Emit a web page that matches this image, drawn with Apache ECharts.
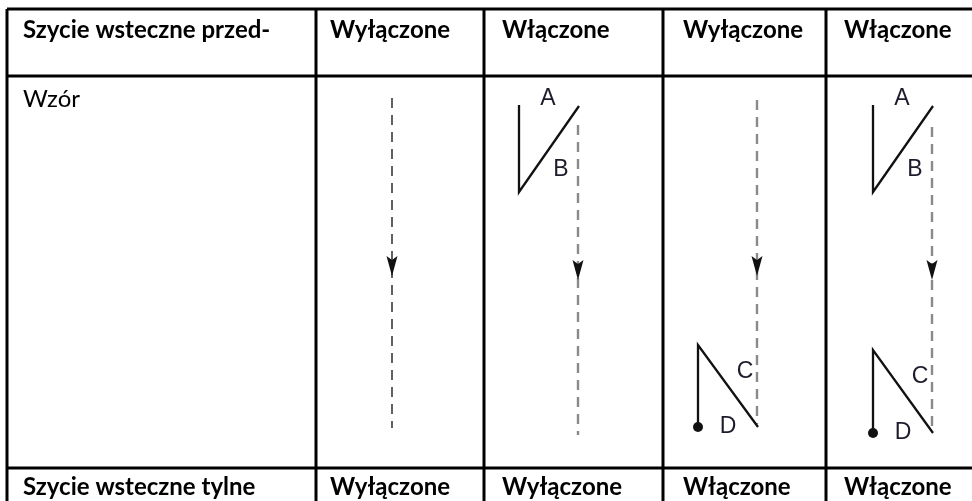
<!DOCTYPE html>
<html><head><meta charset="utf-8">
<script src="https://cdn.jsdelivr.net/npm/echarts@6/dist/echarts.min.js"></script>
<style>html,body{margin:0;padding:0;background:#fff}#c{width:972px;height:501px}</style>
</head><body><div id="c"></div>
<script>
// ---------- data ----------
const headerLabels = ['Szycie wsteczne przed-', 'Wyłączone', 'Włączone', 'Wyłączone', 'Włączone'];
const rowLabels = ['Wzór'];
const footerLabels = ['Szycie wsteczne tylne', 'Wyłączone', 'Wyłączone', 'Włączone', 'Włączone'];
const startTack = [false, true, false, true];   // backstitch at start (A/B)
const endTack = [false, false, true, true];     // backstitch at end (C/D)
const startLetters = ['A', 'B'];
const endLetters = ['C', 'D'];

// ---------- layout ----------
const W = 972, H = 501;
const colEdges = [7, 316, 484, 663, 826];
const rowEdges = [9, 76, 468];
const textPad = [16, 14, 18, 20, 18];
const headerY = 30, rowLabelY = 99, footerY = 487;
const stitchX = [392, 578, 757, 932];
const stitchTop = [98, 125, 100, 127];
const stitchBottom = [428, 435, 424, 430];
const stitchColor = ['#3a3a3a', '#8a8a8a', '#8a8a8a', '#8a8a8a'];
const stitchWidth = [1.6, 2.4, 2.4, 2.4];
const arrowTip = [276, 280, 276, 280];
const endTop = [0, 0, 345, 350];
const endBottom = [0, 0, 427, 433];

const FONT = 'Lato, "Open Sans", sans-serif';

// build element lists from data + layout
const ruleSegs = [];
rowEdges.forEach(y => ruleSegs.push([colEdges[0], y, W, y]));
colEdges.forEach(x => ruleSegs.push([x, rowEdges[0], x, H]));

const cellTexts = [];
headerLabels.forEach((t, i) => cellTexts.push({ value: [colEdges[i] + textPad[i], headerY], text: t, bold: true }));
rowLabels.forEach(t => cellTexts.push({ value: [colEdges[0] + textPad[0], rowLabelY], text: t, bold: false }));
footerLabels.forEach((t, i) => cellTexts.push({ value: [colEdges[i] + textPad[i], footerY], text: t, bold: true }));

const stitches = stitchX.map((x, k) => ({ value: [x, stitchTop[k], stitchBottom[k]], k }));
const arrows = stitchX.map((x, k) => ({ value: [x, arrowTip[k]] }));

const tacks = [], dots = [], letters = [];
startTack.forEach((on, k) => {
  if (!on) return;
  const sx = stitchX[k], vx = sx - 59;
  tacks.push({ value: [vx, 105, vx, 192, sx + 1, 106] });
  letters.push({ value: [sx - 30, 99], text: startLetters[0] });
  letters.push({ value: [sx - 17, 170], text: startLetters[1] });
});
endTack.forEach((on, k) => {
  if (!on) return;
  const sx = stitchX[k], vx = sx - 59;
  tacks.push({ value: [vx, endBottom[k], vx, endTop[k], sx + 1, endBottom[k]] });
  dots.push({ value: [vx, endBottom[k]] });
  letters.push({ value: [sx - 12, endTop[k] + 27], text: endLetters[0] });
  letters.push({ value: [sx - 29, endBottom[k]], text: endLetters[1] });
});

const chart = echarts.init(document.getElementById('c'));
chart.setOption({
  animation: false,
  backgroundColor: '#fff',
  grid: { left: 0, right: 0, top: 0, bottom: 0 },
  xAxis: { type: 'value', min: 0, max: W, show: false },
  yAxis: { type: 'value', min: 0, max: H, inverse: true, show: false },
  series: [
    {
      type: 'custom', clip: false, silent: true, data: ruleSegs,
      renderItem: (p, api) => {
        const a = api.coord([api.value(0), api.value(1)]), b = api.coord([api.value(2), api.value(3)]);
        return { type: 'line', shape: { x1: a[0], y1: a[1], x2: b[0], y2: b[1] }, style: { stroke: '#000', lineWidth: 3 } };
      }
    },
    {
      type: 'custom', clip: false, silent: true, data: stitches,
      renderItem: (p, api) => {
        const k = stitches[p.dataIndex].k;
        const a = api.coord([api.value(0), api.value(1)]), b = api.coord([api.value(0), api.value(2)]);
        return { type: 'line', shape: { x1: a[0], y1: a[1], x2: b[0], y2: b[1] }, style: { stroke: stitchColor[k], lineWidth: stitchWidth[k], lineDash: [10, 7] } };
      }
    },
    {
      type: 'custom', clip: false, silent: true, data: arrows,
      renderItem: (p, api) => {
        const t = api.coord([api.value(0), api.value(1)]);
        return { type: 'polygon', shape: { points: [[t[0] - 5.5, t[1] - 20], [t[0], t[1] - 16], [t[0] + 5.5, t[1] - 20], [t[0], t[1]]] }, style: { fill: '#111' } };
      }
    },
    {
      type: 'custom', clip: false, silent: true, data: tacks,
      renderItem: (p, api) => {
        const pts = [0, 2, 4].map(i => api.coord([api.value(i), api.value(i + 1)]));
        return { type: 'polyline', shape: { points: pts }, style: { stroke: '#111', lineWidth: 2.3, fill: null } };
      }
    },
    {
      type: 'custom', clip: false, silent: true, data: dots,
      renderItem: (p, api) => {
        const c = api.coord([api.value(0), api.value(1)]);
        return { type: 'circle', shape: { cx: c[0], cy: c[1], r: 5 }, style: { fill: '#111' } };
      }
    },
    {
      type: 'custom', clip: false, silent: true, data: letters,
      renderItem: (p, api) => {
        const c = api.coord([api.value(0), api.value(1)]);
        return { type: 'text', x: c[0], y: c[1], style: { text: letters[p.dataIndex].text, font: '23px "Liberation Sans", Arial, sans-serif', fill: '#1c1c2c', align: 'center', verticalAlign: 'middle' } };
      }
    },
    {
      type: 'custom', clip: false, silent: true, data: cellTexts,
      renderItem: (p, api) => {
        const c = api.coord([api.value(0), api.value(1)]);
        const it = cellTexts[p.dataIndex];
        return { type: 'text', x: c[0], y: c[1], style: { text: it.text, font: (it.bold ? 'bold ' : '') + '24px ' + FONT, fill: '#000', align: 'left', verticalAlign: 'middle' } };
      }
    }
  ]
});
</script>
</body></html>
